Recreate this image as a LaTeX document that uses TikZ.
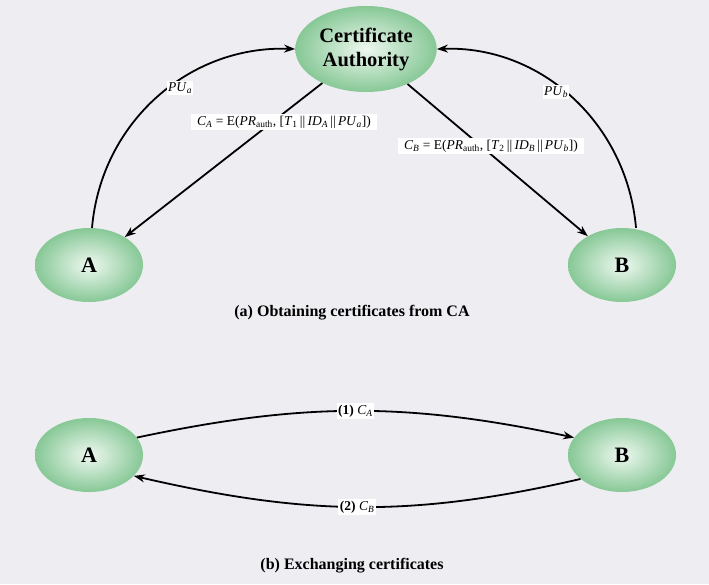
\documentclass[tikz,border=0pt]{standalone}
\usepackage{fontspec}
\setmainfont{Liberation Serif}
\usetikzlibrary{arrows.meta,shapes.geometric}
\definecolor{bgc}{RGB}{238,237,242}
\definecolor{entout}{RGB}{135,200,150}
\definecolor{entin}{RGB}{238,248,240}
\newcommand{\vv}{\,||\,}
\begin{document}
\begin{tikzpicture}[x=1pt,y=-1pt,
  ent/.style={ellipse,shading=radial,inner color=entin,outer color=entout,minimum width=108pt,minimum height=74pt,font=\fontsize{22}{24}\selectfont\bfseries},
  conn/.style={line width=1.8pt,-{Stealth[length=11pt,width=8pt]}},
  lab/.style={fill=white,inner sep=1.5pt,font=\fontsize{13.5}{15}\selectfont},
  captxt/.style={font=\fontsize{16}{18}\selectfont\bfseries}]
\fill[bgc] (0,0) rectangle (709,584);
\useasboundingbox (0,0) rectangle (709,584);
\node[ent,minimum width=124pt,minimum height=86pt,align=center,font=\fontsize{20.5}{24}\selectfont\bfseries] (ca) at (366,49) {Certificate\\Authority};
\node[ent] (a1) at (89,265) {A};
\node[ent] (b1) at (622,265) {B};
\node[ent] (a2) at (89,455) {A};
\node[ent] (b2) at (622,455) {B};
\draw[conn] (a1.north) ++(3,0) coordinate (a1s) (a1s) to[out=85,in=178] (ca.west);
\draw[conn] (b1.north) ++(14,0) coordinate (b1s) (b1s) to[out=95,in=2] (ca.east);
\draw[conn] (ca) -- (a1);
\draw[conn] (ca) -- (b1);
\draw[conn] (a2.20) to[out=12,in=168] node[lab] (l1) {\textbf{(1)} \textit{C}\textsubscript{\textit{A}}} (b2.160);
\draw[conn] (b2.-150) to[out=193,in=-13] node[lab] (l2) {\textbf{(2)} \textit{C}\textsubscript{\textit{B}}} (a2.-25);
\node[lab] (pua) at (180,88) {\textit{PU}\textsubscript{\textit{a}}};
\node[lab] (pub) at (556,92) {\textit{PU}\textsubscript{\textit{b}}};
\node[lab,inner xsep=6pt] (lca) at (284,122) {\textit{C}\textsubscript{\textit{A}} = E(\textit{PR}\textsubscript{auth}, [\textit{T}\textsubscript{1}\vv\textit{ID}\textsubscript{\textit{A}}\vv\textit{PU}\textsubscript{\textit{a}}])};
\node[lab,inner xsep=6pt] (lcb) at (491,146) {\textit{C}\textsubscript{\textit{B}} = E(\textit{PR}\textsubscript{auth}, [\textit{T}\textsubscript{2}\vv\textit{ID}\textsubscript{\textit{B}}\vv\textit{PU}\textsubscript{\textit{b}}])};
\node[captxt] (capa) at (352,313) {(a) Obtaining certificates from CA};
\node[captxt] (capb) at (352,566) {(b) Exchanging certificates};
\end{tikzpicture}
\end{document}
